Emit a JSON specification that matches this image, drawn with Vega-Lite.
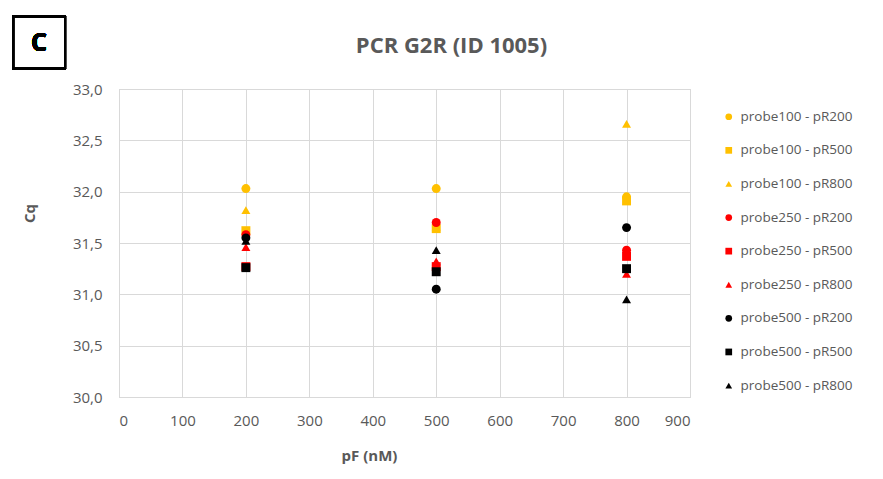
{
  "$schema": "https://vega.github.io/schema/vega-lite/v6.json",
  "width": 571,
  "height": 308,
  "autosize": {"type": "none"},
  "padding": {"left": 119, "top": 89, "right": 193, "bottom": 82},
  "background": "white",
  "config": {
    "font": "Open Sans",
    "view": {"stroke": "#d0d0d0", "strokeWidth": 1}
  },
  "title": {
    "text": "PCR G2R (ID 1005)",
    "fontSize": 22,
    "fontWeight": "bold",
    "color": "#595959",
    "anchor": "middle",
    "frame": "group",
    "dx": 47,
    "offset": 0,
    "dy": 45
  },
  "data": {
    "values": [
      {"pF": 200, "Cq": 32.03, "series": "probe100 - pR200"},
      {"pF": 500, "Cq": 32.03, "series": "probe100 - pR200"},
      {"pF": 800, "Cq": 31.95, "series": "probe100 - pR200"},
      {"pF": 200, "Cq": 31.62, "series": "probe100 - pR500"},
      {"pF": 500, "Cq": 31.64, "series": "probe100 - pR500"},
      {"pF": 800, "Cq": 31.91, "series": "probe100 - pR500"},
      {"pF": 200, "Cq": 31.82, "series": "probe100 - pR800"},
      {"pF": 500, "Cq": 31.66, "series": "probe100 - pR800"},
      {"pF": 800, "Cq": 32.66, "series": "probe100 - pR800"},
      {"pF": 200, "Cq": 31.58, "series": "probe250 - pR200"},
      {"pF": 500, "Cq": 31.70, "series": "probe250 - pR200"},
      {"pF": 800, "Cq": 31.43, "series": "probe250 - pR200"},
      {"pF": 200, "Cq": 31.27, "series": "probe250 - pR500"},
      {"pF": 500, "Cq": 31.27, "series": "probe250 - pR500"},
      {"pF": 800, "Cq": 31.37, "series": "probe250 - pR500"},
      {"pF": 200, "Cq": 31.46, "series": "probe250 - pR800"},
      {"pF": 500, "Cq": 31.32, "series": "probe250 - pR800"},
      {"pF": 800, "Cq": 31.20, "series": "probe250 - pR800"},
      {"pF": 200, "Cq": 31.55, "series": "probe500 - pR200"},
      {"pF": 500, "Cq": 31.05, "series": "probe500 - pR200"},
      {"pF": 800, "Cq": 31.65, "series": "probe500 - pR200"},
      {"pF": 200, "Cq": 31.26, "series": "probe500 - pR500"},
      {"pF": 500, "Cq": 31.22, "series": "probe500 - pR500"},
      {"pF": 800, "Cq": 31.25, "series": "probe500 - pR500"},
      {"pF": 200, "Cq": 31.52, "series": "probe500 - pR800"},
      {"pF": 500, "Cq": 31.43, "series": "probe500 - pR800"},
      {"pF": 800, "Cq": 30.95, "series": "probe500 - pR800"}
    ]
  },
  "layer": [
    {
      "mark": {"type": "point", "filled": true, "opacity": 1, "size": 80},
      "encoding": {
        "x": {
          "field": "pF",
          "type": "quantitative",
          "scale": {"domain": [0, 900], "nice": false},
          "axis": {
            "title": "pF (nM)",
            "titleFontSize": 15,
            "titleFontWeight": "bold",
            "titleColor": "#595959",
            "titleX": 250,
            "titleY": 51,
            "values": [0, 100, 200, 300, 400, 500, 600, 700, 800, 900],
            "labelFontSize": 15,
            "labelColor": "#595959",
            "labelPadding": 16,
            "domain": false,
            "ticks": false,
            "grid": true,
            "gridColor": "#d9d9d9"
          }
        },
        "y": {
          "field": "Cq",
          "type": "quantitative",
          "scale": {"domain": [30, 33], "nice": false, "zero": false},
          "axis": {
            "title": "Cq",
            "titleFontSize": 15,
            "titleFontWeight": "bold",
            "titleColor": "#595959",
            "titleX": -82,
            "titleY": 124,
            "values": [30, 30.5, 31, 31.5, 32, 32.5, 33],
            "labelExpr": "replace(format(datum.value, '.1f'), '.', ',')",
            "labelFontSize": 15,
            "labelColor": "#595959",
            "labelPadding": 17,
            "domain": false,
            "ticks": false,
            "grid": true,
            "gridColor": "#d9d9d9"
          }
        },
        "color": {
          "field": "series",
          "type": "nominal",
          "scale": {
            "domain": ["probe100 - pR200", "probe100 - pR500", "probe100 - pR800", "probe250 - pR200", "probe250 - pR500", "probe250 - pR800", "probe500 - pR200", "probe500 - pR500", "probe500 - pR800"],
            "range": ["#FFC000", "#FFC000", "#FFC000", "#FF0000", "#FF0000", "#FF0000", "#000000", "#000000", "#000000"]
          },
          "legend": {
            "title": null,
            "orient": "none",
            "legendX": 603,
            "legendY": 21,
            "labelFontSize": 13.5,
            "labelColor": "#595959",
            "symbolSize": 45,
            "rowPadding": 18.6,
            "labelOffset": 5
          }
        },
        "shape": {
          "field": "series",
          "type": "nominal",
          "scale": {
            "domain": ["probe100 - pR200", "probe100 - pR500", "probe100 - pR800", "probe250 - pR200", "probe250 - pR500", "probe250 - pR800", "probe500 - pR200", "probe500 - pR500", "probe500 - pR800"],
            "range": ["circle", "square", "triangle-up", "circle", "square", "triangle-up", "circle", "square", "triangle-up"]
          },
          "legend": {
            "title": null,
            "orient": "none",
            "legendX": 603,
            "legendY": 21,
            "labelFontSize": 13.5,
            "labelColor": "#595959",
            "symbolSize": 45,
            "rowPadding": 18.6,
            "labelOffset": 5
          }
        }
      }
    },
    {
      "mark": {"type": "point", "shape": "square", "filled": false, "stroke": "black", "strokeWidth": 2, "size": 2700, "opacity": 1, "clip": false},
      "encoding": {
        "x": {"datum": -126, "type": "quantitative"},
        "y": {"datum": 33.45, "type": "quantitative"}
      }
    },
    {
      "mark": {"type": "text", "text": "C", "fontSize": 25, "fontWeight": "bold", "color": "black", "font": "Open Sans", "clip": false},
      "encoding": {
        "x": {"datum": -126, "type": "quantitative"},
        "y": {"datum": 33.45, "type": "quantitative"}
      }
    }
  ]
}
